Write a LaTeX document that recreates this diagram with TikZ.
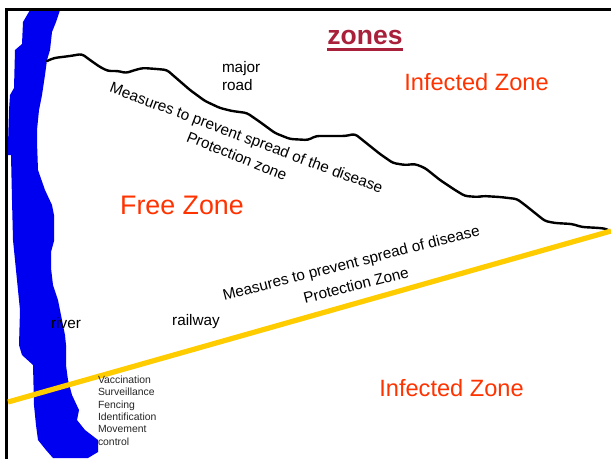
\documentclass[tikz,border=0pt]{standalone}
\usepackage{fontspec}
\setmainfont{Liberation Sans}
\definecolor{riverblue}{HTML}{0000F0}
\definecolor{railyellow}{HTML}{FFCC00}
\definecolor{zonered}{HTML}{FF3300}
\definecolor{titlered}{HTML}{A8203A}
\tikzset{
 lbl/.style={inner sep=0pt,outer sep=0pt,text=black,font=\fontsize{15.3}{18.5}\selectfont},
 zonelbl/.style={inner sep=0pt,outer sep=0pt,text=zonered,font=\fontsize{23.6}{28}\selectfont},
 small/.style={inner sep=0pt,outer sep=0pt,text=black!85,font=\fontsize{10.4}{12.3}\selectfont,align=left},
 road/.style={draw=black,line width=2.4pt,line join=round,line cap=round,rounded corners=3pt},
 rail/.style={draw=railyellow,line width=5.2pt},
 frameline/.style={draw=black,line width=3pt}
}
\begin{document}
\begin{tikzpicture}[x=1pt,y=-1pt]
\useasboundingbox (0,0) rectangle (611,459);
\fill[white] (0,0) rectangle (611,459);
\fill[riverblue,line join=round] (30,10) -- (60,10) -- (56,22) -- (52,32) -- (50,50) -- (47,60) -- (45,75) -- (42,95) -- (39,110) -- (37,130) -- (37,142) -- (38,170) -- (45,190) -- (52,205) -- (54,215) -- (54,241) -- (51,252) -- (51,268) -- (53,285) -- (58,300) -- (62,320) -- (65,335) -- (66,345) -- (66,365) -- (68,380) -- (72,395) -- (79,410) -- (77,420) -- (85,430) -- (98,440) -- (98,452) -- (88,458) -- (53,458) -- (46,450) -- (38,440) -- (36,425) -- (34,405) -- (33,365) -- (22,355) -- (19,345) -- (20,310) -- (17,280) -- (13,240) -- (12,200) -- (11,155) -- (8,155) -- (8,145) -- (9,110) -- (10,95) -- (14,88) -- (15,50) -- (22,44) -- (23,22) -- cycle;
\draw[frameline] (6.5,459) -- (6.5,9) -- (611,9);
\draw[road] (47,61) -- (54,58) -- (70,56) -- (82,54) -- (90,60) -- (100,67) -- (108,71) -- (118,71) -- (126,73) -- (135,70) -- (143,68) -- (157,69) -- (167,70) -- (175,77) -- (190,90) -- (205,101) -- (220,108) -- (232,111) -- (247,113) -- (260,122) -- (275,133) -- (290,139) -- (308,140) -- (316,136) -- (330,136) -- (345,136) -- (355,134) -- (365,142) -- (380,154) -- (393,163) -- (405,165) -- (415,164) -- (425,168) -- (440,180) -- (455,190) -- (465,196) -- (478,197) -- (483,196) -- (500,197) -- (517,199) -- (525,205) -- (545,221) -- (555,223) -- (572,224) -- (582,227) -- (600,228) -- (607,229) -- (611,232);
\coordinate (railW) at (8,402);
\coordinate (railE) at (611,231);
\draw[rail] (railW) -- (railE);
\node[inner sep=0pt,text=titlered,font=\fontsize{26.5}{30}\selectfont\bfseries] (title) at (365,37) {zones};
\fill[titlered] (327,48) rectangle (403,50.5);
\node[zonelbl] (inf1) at (476.5,82) {Infected Zone};
\node[zonelbl,font=\fontsize{26.8}{30}\selectfont] (free) at (182,205) {Free Zone};
\node[zonelbl] (inf2) at (451.5,388) {Infected Zone};
\node[lbl,align=left,anchor=west] (major) at (222,76) {major\\road};
\node[lbl,rotate=-20.5] (m1) at (246,139) {Measures to prevent spread of the disease};
\node[lbl,rotate=-22] (p1) at (237,156) {Protection zone};
\node[lbl,rotate=14.3] (m2) at (351.5,264) {Measures to prevent spread of disease};
\node[lbl,rotate=14.3] (p2) at (356,285) {Protection Zone};
\node[lbl] (river) at (66,323) {river};
\node[lbl] (railway) at (196,322) {railway};
\node[small,anchor=north west] (ctrl) at (98,376) {Vaccination\\Surveillance\\Fencing\\Identification\\Movement\\control};
\end{tikzpicture}
\end{document}
